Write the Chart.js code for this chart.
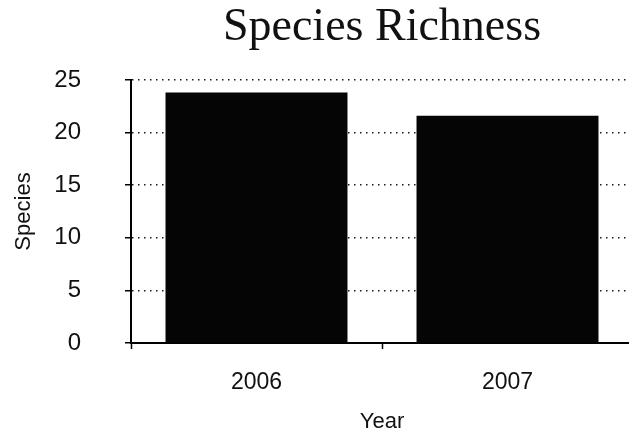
<!DOCTYPE html>
<html>
<head>
<meta charset="utf-8">
<script src="https://cdn.jsdelivr.net/npm/chart.js@4/dist/chart.umd.min.js"></script>
<style>
html,body{margin:0;padding:0;background:#fff;overflow:hidden;}
#wrap{width:629px;height:435px;position:relative;overflow:hidden;}
canvas{display:block;}
</style>
</head>
<body>
<div id="wrap"><canvas id="c" width="633" height="435"></canvas></div>
<script>
const categories = ["2006", "2007"];
const speciesValues = [23.8, 21.6];
const yTicks = [0, 5, 10, 15, 20, 25];

const sans = "'Liberation Sans', Arial, sans-serif";
const ink = "#111";

new Chart(document.getElementById('c'), {
  type: 'bar',
  data: {
    labels: categories,
    datasets: [{
      label: 'Species',
      data: speciesValues,
      backgroundColor: '#050505',
      borderWidth: 0,
      barPercentage: 0.725,
      categoryPercentage: 1.0
    }]
  },
  options: {
    responsive: false,
    animation: false,
    devicePixelRatio: 1,
    layout: { padding: { left: 0, right: 0, top: 0, bottom: 0 } },
    plugins: {
      legend: { display: false },
      tooltip: { enabled: false },
      title: {
        display: true,
        text: 'Species Richness',
        fullSize: false,
        color: ink,
        font: { family: "'Liberation Serif', 'Times New Roman', serif", size: 46, weight: 'normal', lineHeight: 1.2 },
        padding: { top: 0, bottom: 24.8 }
      }
    },
    scales: {
      x: {
        afterFit: (s) => { s.height = 92; },
        grid: { display: true, drawOnChartArea: false, drawTicks: true, tickLength: 6, tickColor: '#000', tickWidth: 1.5, offset: true },
        border: { display: true, color: '#000', width: 2 },
        ticks: { color: ink, font: { family: sans, size: 23 }, padding: 20, maxRotation: 0 },
        title: { display: true, text: 'Year', color: ink, font: { family: sans, size: 22 }, padding: { top: 0, bottom: 0 } }
      },
      y: {
        min: 0, max: 25,
        afterFit: (s) => { s.width = 131; },
        afterBuildTicks: (s) => { s.ticks = yTicks.map(v => ({ value: v })); },
        grid: { display: true, drawOnChartArea: true, color: '#1a1a1a', lineWidth: 1.5, tickLength: 6, tickColor: '#000', tickWidth: 1.5, tickBorderDash: [] },
        border: { display: true, color: '#000', width: 2, dash: [1.5, 4.5] },
        ticks: { color: ink, font: { family: sans, size: 24 }, padding: 44, stepSize: 5 },
        title: { display: true, text: 'Species', color: ink, font: { family: sans, size: 22 }, padding: { top: 11, bottom: 0 } }
      }
    }
  }
});
</script>
</body>
</html>
